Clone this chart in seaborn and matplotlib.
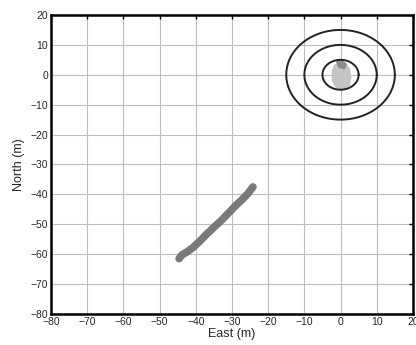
import numpy as np
import pandas as pd
import matplotlib
matplotlib.use('Agg')
import matplotlib.pyplot as plt
import seaborn as sns

# range rings around the origin (m)
ring_radii = [5, 10, 15]

# track of the target (east, north) in m
track_east = [-44.6, -43.8, -42.5, -41.0, -39.0, -37.0, -35.0, -33.0, -31.0, -29.0, -27.0, -25.5, -24.2]
track_north = [-61.5, -60.2, -59.3, -58.0, -55.8, -53.3, -51.0, -48.8, -46.3, -43.8, -41.5, -39.6, -37.5]

# position spread near the origin
blob_east = [-1.8, -0.5, 1.3, 2.6, 3.0, 2.6, 1.0, -1.2, -2.4, -2.5]
blob_north = [3.3, 4.3, 4.2, 2.2, -1.0, -3.8, -5.0, -4.6, -2.2, 1.0]
blob_top_east = [-1.3, 0.3, 1.8, 1.2, -0.6]
blob_top_north = [4.5, 5.0, 3.6, 1.8, 2.3]

sns.set_style("white")
plt.rcParams['font.family'] = ['Liberation Sans', 'DejaVu Sans']

fig = plt.figure(figsize=(4.16, 3.45), dpi=100)
ax = fig.add_axes([0.1226, 0.0899, 0.870, 0.8667])

ax.grid(True, color='#bdbdbd', linewidth=0.8)
ax.set_axisbelow(True)

theta = np.linspace(0, 2 * np.pi, 200)
for r in ring_radii:
    ax.plot(r * np.cos(theta), r * np.sin(theta), color='#222222', linewidth=1.4)

ax.fill(blob_east, blob_north, color='#c4c4c4', lw=0)
ax.fill(blob_top_east, blob_top_north, color='#8a8a8a', lw=0)

df = pd.DataFrame({'East': track_east, 'North': track_north})
sns.lineplot(data=df, x='East', y='North', sort=False, color='#7a7a7a',
             linewidth=5.5, solid_capstyle='round', ax=ax)

ax.set_xlim(-80, 20)
ax.set_ylim(-80, 20)
ax.set_xticks(range(-80, 21, 10))
ax.set_yticks(range(-80, 21, 10))
ax.tick_params(direction='in', length=3, width=1, labelsize=7.5, pad=2,
               top=True, right=True, color='black')
for s in ax.spines.values():
    s.set_linewidth(1.8)
    s.set_color('black')
ax.set_xlabel('East (m)', fontsize=9, labelpad=1)
ax.set_ylabel('North (m)', fontsize=9, labelpad=4)

fig.savefig('out.png', dpi=100)
